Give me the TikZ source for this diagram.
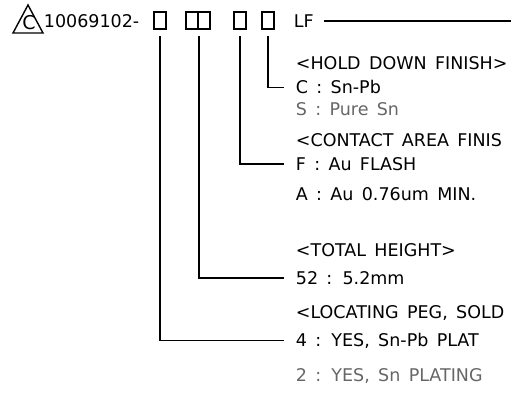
\documentclass[tikz,border=0pt]{standalone}
\usepackage{fontspec}
\setmainfont[WordSpace=1.5]{DejaVu Sans}
\usetikzlibrary{positioning}

\begin{document}
\begin{tikzpicture}[x=1pt,y=-1pt,line width=1.8pt,
  codebox/.style={draw,line width=1.5pt,minimum width=12pt,minimum height=17pt,inner sep=0pt},
  lbl/.style={anchor=west,inner xsep=0pt,inner ysep=0pt,text height=12.8pt,text depth=0pt,
    font=\fontsize{17.5}{17.5}\selectfont},
  item/.style={lbl,inner xsep=11pt},
  spare/.style={item,text=black!60}]
\useasboundingbox (0,0) rectangle (511,392);
\clip (0,0) rectangle (511,392);

% part number with revision mark
\draw[line width=1.4pt] (13,33) -- (28,5) -- (43,33) -- cycle;
\node[lbl,anchor=center,font=\fontsize{19}{19}\selectfont] (rev) at (29,23.5) {C};
\node[lbl] (pn) at (43,21) {10069102-};

% code boxes
\node[codebox] (b1) at (160,20.5) {};
\node[codebox] (b2) at (192,20.5) {};
\node[codebox] (b3) at (204,20.5) {};
\node[codebox] (b4) at (240,20.5) {};
\node[codebox] (b5) at (268,20.5) {};
\node[lbl] (lf) at (293,21) {LF};
\coordinate (edge) at (511,21);
\draw (lf.east) ++(9,0) -- (edge);

% option list
\node[item] (hold) at (284,63) {<HOLD DOWN FINISH>};
\node[item] (c) at (284,87.5) {C : Sn-Pb};
\node[spare] (s) at (284,109) {S : Pure Sn};
\node[item] (contact) at (284,140) {<CONTACT AREA FINIS};
\node[item] (f) at (284,164) {F : Au FLASH};
\node[item] (a) at (284,194) {A : Au 0.76um MIN.};
\node[item] (height) at (284,250) {<TOTAL HEIGHT>};
\node[item] (h52) at (284,278) {52 : 5.2mm};
\node[item] (peg) at (284,312) {<LOCATING PEG, SOLD};
\node[item] (p4) at (284,340.5) {4 : YES, Sn-Pb PLAT};
\node[spare] (p2) at (284,375) {2 : YES, Sn PLATING};

% leaders
\draw ([yshift=-6pt]b5.south) |- (c.west);
\draw ([yshift=-6pt]b4.south) |- (f.west);
\draw ([yshift=-6pt]b2.south east) |- (h52.west);
\draw ([yshift=-6pt]b1.south) |- (p4.west);
\end{tikzpicture}
\end{document}
